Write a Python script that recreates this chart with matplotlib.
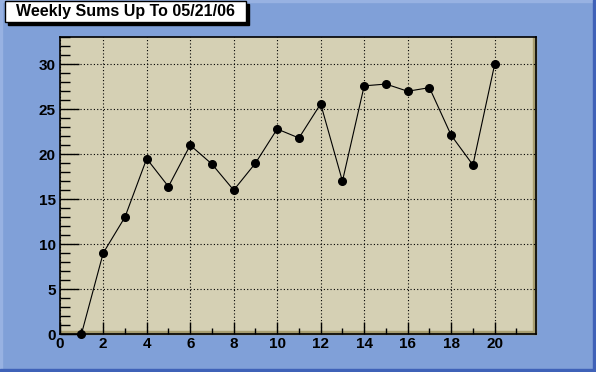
import matplotlib
matplotlib.use("Agg")
import matplotlib.pyplot as plt
from matplotlib.patches import Rectangle
from matplotlib.ticker import MultipleLocator

weeks = [1, 2, 3, 4, 5, 6, 7, 8, 9, 10, 11, 12, 13, 14, 15, 16, 17, 18, 19, 20]
sums = [0, 9, 13, 19.5, 16.4, 21, 18.9, 16, 19, 22.8, 21.8, 25.6, 17, 27.6, 27.8, 27, 27.4, 22.1, 18.8, 30]
title = "Weekly Sums Up To 05/21/06"

pad_color = '#80a0d8'
frame_color = '#d5d0b4'

W, H = 596, 372
fig = plt.figure(figsize=(W / 100, H / 100), dpi=100)
fig.patch.set_facecolor(pad_color)

# canvas bevel
fig.patches.append(Rectangle((0, 0), 2 / W, 1, transform=fig.transFigure, color='#98b2e2', zorder=0))
fig.patches.append(Rectangle((0, 1 - 2 / H), 1, 2 / H, transform=fig.transFigure, color='#98b2e2', zorder=0))
fig.patches.append(Rectangle((0, 0), 1, 3 / H, transform=fig.transFigure, color='#3f62b8', zorder=0))
fig.patches.append(Rectangle((1 - 3 / W, 0), 3 / W, 1, transform=fig.transFigure, color='#3f62b8', zorder=0))

x0, x1 = 59.7, 536
y0, y1 = 37.3, 334
ax = fig.add_axes([x0 / W, 1 - y1 / H, (x1 - x0) / W, (y1 - y0) / H])
ax.set_facecolor(frame_color)

ax.plot(weeks, sums, color='black', lw=0.8, marker='o', ms=5.5, mfc='black', mec='black',
        zorder=5, clip_on=False)

ax.set_xlim(0, 21.9)
ax.set_ylim(0, 33)
ax.xaxis.set_major_locator(MultipleLocator(2))
ax.xaxis.set_minor_locator(MultipleLocator(1))
ax.yaxis.set_major_locator(MultipleLocator(5))
ax.yaxis.set_minor_locator(MultipleLocator(1))

ax.tick_params(which='both', direction='in', top=False, right=False, color='black', width=1)
ax.tick_params(axis='x', which='major', length=9, pad=2)
ax.tick_params(axis='x', which='minor', length=4.5)
ax.tick_params(axis='y', which='major', length=14, pad=3)
ax.tick_params(axis='y', which='minor', length=7)

for lab in ax.get_xticklabels() + ax.get_yticklabels():
    lab.set_fontfamily('Liberation Sans')
    lab.set_fontweight('bold')
    lab.set_fontsize(11)

ax.grid(True, which='major', color='black', linestyle=(0, (1, 2)), linewidth=0.8)
ax.set_axisbelow(False)

for s in ax.spines.values():
    s.set_linewidth(1.2)
    s.set_color('black')

# frame bevel (bottom/right darker)
ax.add_patch(Rectangle((0, 0), 1, 3 / (y1 - y0), transform=ax.transAxes, color='#a89e70',
                       zorder=1, clip_on=False))
ax.add_patch(Rectangle((1 - 3 / (x1 - x0), 0), 3 / (x1 - x0), 1, transform=ax.transAxes,
                       color='#a89e70', zorder=1, clip_on=False))

# title box with shadow
bx0, bx1, by0, by1 = 5, 246, 1, 22
fig.patches.append(Rectangle(((bx0 + 3) / W, 1 - (by1 + 2.5) / H), (bx1 - bx0) / W, (by1 - by0) / H,
                             transform=fig.transFigure, color='black', zorder=2))
fig.patches.append(Rectangle((bx0 / W, 1 - by1 / H), (bx1 - bx0) / W, (by1 - by0) / H,
                             transform=fig.transFigure, facecolor='white', edgecolor='black',
                             linewidth=1, zorder=3))
fig.text((bx0 + bx1) / 2 / W, 1 - (by0 + by1) / 2 / H, title, ha='center', va='center',
         fontfamily='Liberation Sans', fontweight='bold', fontsize=11.5, zorder=4)

fig.savefig('out.png', dpi=100, facecolor=fig.get_facecolor())
